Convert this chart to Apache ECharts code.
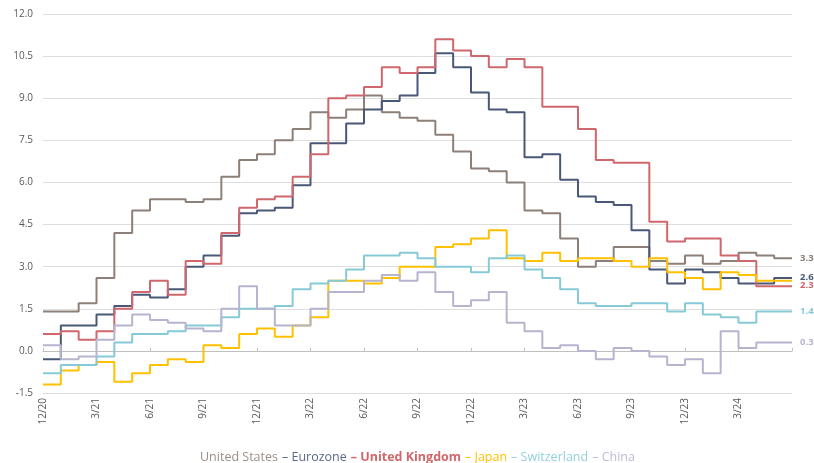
<!DOCTYPE html>
<html>
<head>
<meta charset="utf-8">
<script src="https://cdn.jsdelivr.net/npm/echarts@6/dist/echarts.min.js"></script>
<style>
  html, body { margin: 0; padding: 0; background: #ffffff; }
  #chart { width: 814px; height: 463px; }
</style>
</head>
<body>
<div id="chart"></div>
<script>
// Monthly readings, Dec 2020 .. May 2024 (42 months), % y/y
const tickLabels = ['12/20','3/21','6/21','9/21','12/21','3/22','6/22','9/22','12/22','3/23','6/23','9/23','12/23','3/24'];
const seriesNames = ['United States','Eurozone','United Kingdom','Japan','Switzerland','China'];

const unitedStates = [1.4,1.4,1.7,2.6,4.2,5.0,5.4,5.4,5.3,5.4,6.2,6.8,7.0,7.5,7.9,8.5,8.3,8.6,9.1,8.5,8.3,8.2,7.7,7.1,6.5,6.4,6.0,5.0,4.9,4.0,3.0,3.2,3.7,3.7,3.2,3.1,3.4,3.1,3.2,3.5,3.4,3.3];
const eurozone = [-0.3,0.9,0.9,1.3,1.6,2.0,1.9,2.2,3.0,3.4,4.1,4.9,5.0,5.1,5.9,7.4,7.4,8.1,8.6,8.9,9.1,9.9,10.6,10.1,9.2,8.6,8.5,6.9,7.0,6.1,5.5,5.3,5.2,4.3,2.9,2.4,2.9,2.8,2.6,2.4,2.4,2.6];
const unitedKingdom = [0.6,0.7,0.4,0.7,1.5,2.1,2.5,2.0,3.2,3.1,4.2,5.1,5.4,5.5,6.2,7.0,9.0,9.1,9.4,10.1,9.9,10.1,11.1,10.7,10.5,10.1,10.4,10.1,8.7,8.7,7.9,6.8,6.7,6.7,4.6,3.9,4.0,4.0,3.4,3.2,2.3,2.3];
const japan = [-1.2,-0.7,-0.5,-0.4,-1.1,-0.8,-0.5,-0.3,-0.4,0.2,0.1,0.6,0.8,0.5,0.9,1.2,2.5,2.5,2.4,2.6,3.0,3.0,3.7,3.8,4.0,4.3,3.3,3.2,3.5,3.2,3.3,3.3,3.2,3.0,3.3,2.8,2.6,2.2,2.8,2.7,2.5,2.5];
const switzerland = [-0.8,-0.5,-0.5,-0.2,0.3,0.6,0.6,0.7,0.9,0.9,1.2,1.5,1.5,1.6,2.2,2.4,2.5,2.9,3.4,3.4,3.5,3.3,3.0,3.0,2.8,3.3,3.4,2.9,2.6,2.2,1.7,1.6,1.6,1.7,1.7,1.4,1.7,1.3,1.2,1.0,1.4,1.4];
const china = [0.2,-0.3,-0.2,0.4,0.9,1.3,1.1,1.0,0.8,0.7,1.5,2.3,1.5,0.9,0.9,1.5,2.1,2.1,2.5,2.7,2.5,2.8,2.1,1.6,1.8,2.1,1.0,0.7,0.1,0.2,0.0,-0.3,0.1,0.0,-0.2,-0.5,-0.3,-0.8,0.7,0.1,0.3,0.3];

const yTicks = { min: -1.5, max: 12, step: 1.5 };

const allValues = [unitedStates, eurozone, unitedKingdom, japan, switzerland, china];
const colors = ['#8c8078', '#4a5878', '#d0676c', '#ffc000', '#86cad8', '#b6b4cf'];
const legendColors = ['#9a8f87', '#5a6888', '#d0676c', '#ffc000', '#92d0dc', '#bdbbd4'];
const showEnd = [true, true, true, false, true, true];
const endOffsets = [[0,0],[0,-1],[0,-1],[0,0],[0,0],[0,0]];
const nMonths = unitedStates.length;
const FONT = '"Open Sans", "Liberation Sans", sans-serif';

function stepData(vals) {
  const d = vals.map((v, i) => [i, v]);
  d.push([vals.length, vals[vals.length - 1]]); // close the last month's step
  return d;
}

const series = seriesNames.map((name, k) => ({
  name: name,
  type: 'line',
  step: 'end',
  xAxisIndex: 0,
  data: stepData(allValues[k]),
  showSymbol: false,
  symbol: 'none',
  lineStyle: { color: colors[k], width: 2 },
  itemStyle: { color: colors[k] },
  emphasis: { disabled: true },
  endLabel: {
    show: showEnd[k],
    formatter: p => p.value[1].toFixed(1),
    color: colors[k],
    fontWeight: 'bold',
    fontSize: 9.5,
    fontFamily: FONT,
    distance: 8,
    offset: endOffsets[k]
  },
  z: 2 + k
}));

const chart = echarts.init(document.getElementById('chart'), null, { renderer: 'canvas' });
chart.setOption({
  animation: false,
  backgroundColor: '#ffffff',
  grid: { left: 43, right: 22, top: 14, bottom: 70, containLabel: false },
  xAxis: [
    {
      type: 'value', min: 0, max: nMonths, interval: 3, position: 'bottom',
      axisLine: { show: false, onZero: false },
      axisTick: { show: false },
      splitLine: { show: false },
      axisLabel: {
        rotate: 90, margin: 5, color: '#595959', fontSize: 10, fontFamily: FONT,
        formatter: v => tickLabels[Math.round(v / 3)] || ''
      }
    },
    {
      type: 'value', min: 0, max: nMonths, interval: 3, position: 'bottom',
      axisLine: { show: true, onZero: true, lineStyle: { color: '#bfbfbf', width: 1 } },
      axisTick: { show: true, inside: true, length: 3, lineStyle: { color: '#bfbfbf' } },
      axisLabel: { show: false },
      splitLine: { show: false }
    }
  ],
  yAxis: {
    type: 'value', min: yTicks.min, max: yTicks.max, interval: yTicks.step,
    axisLine: { show: false }, axisTick: { show: false },
    splitLine: { lineStyle: { color: '#dedede', width: 1 } },
    axisLabel: { color: '#595959', fontSize: 10, fontFamily: FONT, margin: 10,
      formatter: v => v.toFixed(1) }
  },
  legend: {
    top: 446,
    left: 190,
    icon: 'none',
    itemWidth: 0,
    itemHeight: 0,
    itemGap: -1,
    selectedMode: false,
    textStyle: { fontSize: 12.5, fontFamily: FONT },
    formatter: name => (name === seriesNames[0] ? '' : '– ') + name,
    data: seriesNames.map((n, k) => ({
      name: n,
      textStyle: { color: legendColors[k], fontWeight: k === 2 ? 'bold' : 'normal' }
    }))
  },
  series: series
});
</script>
</body>
</html>
